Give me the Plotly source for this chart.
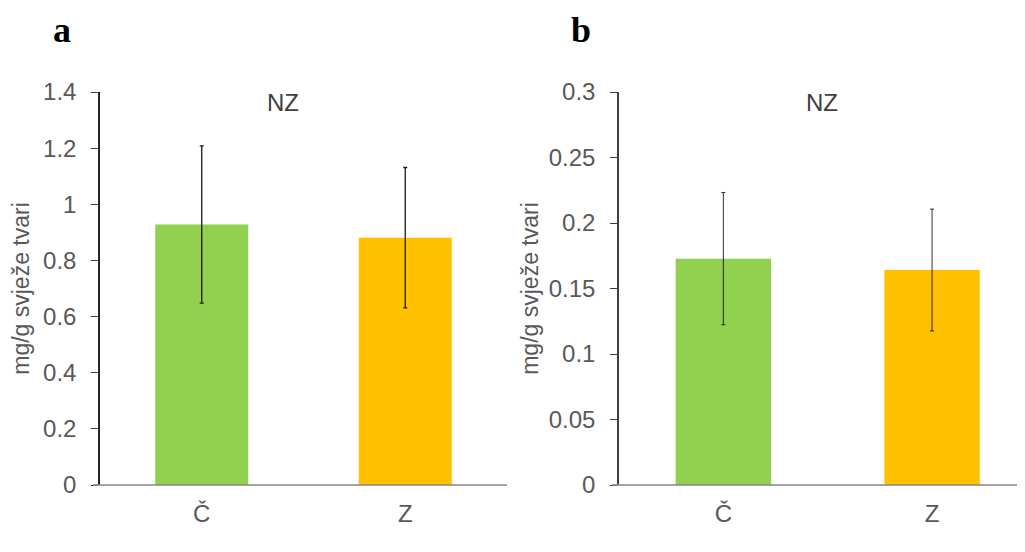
import plotly.graph_objects as go

categories = ["Č", "Z"]
values_a = [0.928, 0.881]
errors_a = [0.28, 0.25]
values_b = [0.1728, 0.1641]
errors_b = [0.0505, 0.0465]
colors = ["#92d050", "#ffc000"]
yticks_a = [0, 0.2, 0.4, 0.6, 0.8, 1, 1.2, 1.4]
ytick_text_a = ["0", "0.2", "0.4", "0.6", "0.8", "1", "1.2", "1.4"]
yticks_b = [0, 0.05, 0.1, 0.15, 0.2, 0.25, 0.3]
ytick_text_b = ["0", "0.05", "0.1", "0.15", "0.2", "0.25", "0.3"]
ytitle = "mg/g svježe tvari"
annot = "NZ"

# page has an 8px body margin; map window pixel positions into figure paper coords
OX, OY = 8, 8
W, H = 1009, 536
def px(x): return (x - OX) / W
def py(y): return 1 - (y - OY) / H

fig = go.Figure()
fig.add_trace(go.Bar(x=categories, y=values_a, marker_color=colors, width=0.457,
                     error_y=dict(type="data", array=errors_a, color="#1a1a1a", thickness=1.3, width=2),
                     xaxis="x", yaxis="y", showlegend=False))
fig.add_trace(go.Bar(x=categories, y=values_b, marker_color=colors, width=0.457,
                     error_y=dict(type="data", array=errors_b, color="#1a1a1a", thickness=0.9, width=2),
                     xaxis="x2", yaxis="y2", showlegend=False))

font = "Liberation Sans, Arial, sans-serif"
tick_font = dict(family=font, size=24, color="#595959")
title_font = dict(family=font, size=23, color="#595959")
yd = [py(485), py(92)]

common_x = dict(showline=False, ticks="", tickfont=tick_font, showgrid=False, zeroline=False,
                automargin=False, ticklabelstandoff=12)
common_y = dict(showline=True, linewidth=1.5, ticks="outside", ticklen=7,
                tickcolor="#404040", tickwidth=1, tickfont=tick_font, showgrid=False, zeroline=False,
                automargin=False, ticklabelstandoff=10)

fig.update_layout(
    template="none",
    width=W, height=H, margin=dict(l=0, r=0, t=0, b=0),
    paper_bgcolor="white", plot_bgcolor="white",
    xaxis=dict(domain=[px(100), px(507)], anchor="y", range=[-0.5, 1.5], **common_x),
    yaxis=dict(domain=yd, anchor="x", range=[0, 1.4], tickvals=yticks_a, ticktext=ytick_text_a,
               linecolor="#262626", title=dict(text=ytitle, font=title_font, standoff=7), **common_y),
    xaxis2=dict(domain=[px(619), 1.0], anchor="y2", range=[-0.5, 1.407], **common_x),
    yaxis2=dict(domain=yd, anchor="x2", range=[0, 0.3], tickvals=yticks_b, ticktext=ytick_text_b,
                linecolor="#404040", title=dict(text=ytitle, font=title_font, standoff=4), **common_y),
    shapes=[
        dict(type="line", xref="paper", yref="paper", x0=px(93), x1=px(507), y0=py(485), y1=py(485),
             line=dict(color="#868686", width=1.5)),
        dict(type="line", xref="paper", yref="paper", x0=px(612), x1=1.0, y0=py(485), y1=py(485),
             line=dict(color="#868686", width=1.5)),
    ],
    annotations=[
        dict(text="<b>a</b>", x=px(62), y=py(30), xref="paper", yref="paper", showarrow=False,
             font=dict(family="Liberation Serif, Times New Roman, serif", size=36, color="black"),
             xanchor="center", yanchor="middle"),
        dict(text="<b>b</b>", x=px(581), y=py(30), xref="paper", yref="paper", showarrow=False,
             font=dict(family="Liberation Serif, Times New Roman, serif", size=36, color="black"),
             xanchor="center", yanchor="middle"),
        dict(text=annot, x=px(283), y=py(102), xref="paper", yref="paper", showarrow=False,
             font=dict(family=font, size=24, color="#404040"), xanchor="center", yanchor="middle"),
        dict(text=annot, x=px(822), y=py(102), xref="paper", yref="paper", showarrow=False,
             font=dict(family=font, size=24, color="#404040"), xanchor="center", yanchor="middle"),
    ],
)

fig.write_html("out.html")
